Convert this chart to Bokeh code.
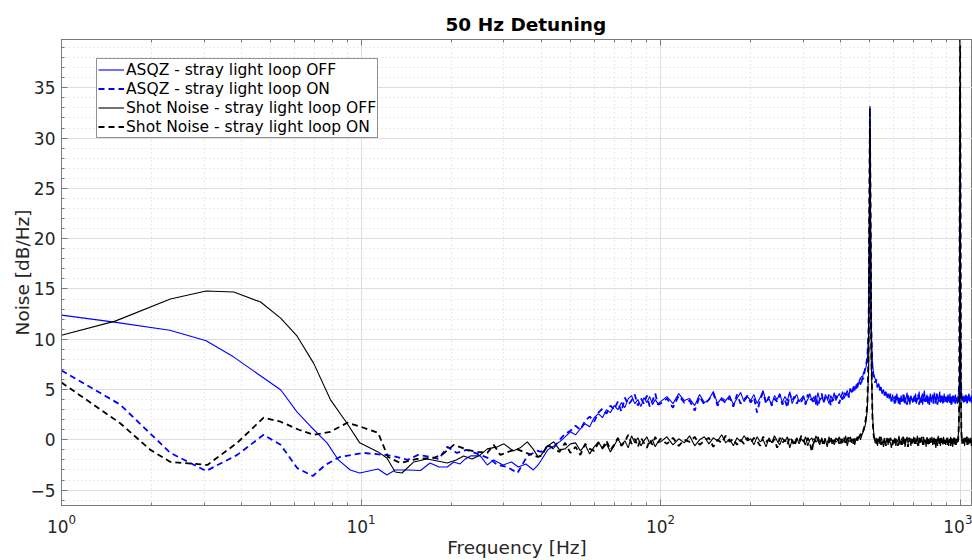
from bokeh.plotting import figure
from bokeh.models import (Range1d, LogAxis, LogTicker, SingleIntervalTicker,
                          Legend, LegendItem, ColumnDataSource)
from bokeh.embed import file_html
from bokeh.resources import INLINE

FONT = "DejaVu Sans"

# ---------------- data ----------------
# smooth low-frequency parts (below 40 Hz), one list per series
asqz_off_f_low = [1.0, 1.5, 2.3, 3.04, 3.75, 4.5, 5.4, 6.1, 6.8, 7.7, 8.4, 9.2, 9.9,
                  11.4, 12.2, 13.0, 14.3, 15.8, 17.0, 18.2, 19.4, 20.4, 21.4, 22.3,
                  23.2, 25.0, 26.4, 27.7, 29.8, 31.8, 33.5, 35.5, 37.6, 39.0]
asqz_off_v_low = [12.4, 11.7, 10.9, 9.85, 8.25, 6.6, 4.95, 2.8, 1.3, -0.3, -2.0, -3.0, -3.3,
                  -2.9, -3.5, -3.0, -3.0, -3.05, -2.3, -2.7, -2.7, -2.2, -2.4, -1.9,
                  -1.6, -1.6, -2.5, -2.0, -2.5, -2.2, -2.7, -2.4, -3.0, -2.5]

asqz_on_f_low = [1.0, 1.57, 2.31, 3.04, 3.86, 4.73, 5.39, 6.12, 6.9, 7.6, 8.5, 10.2, 11.1,
                 12.8, 14.3, 15.5, 17.0, 18.2, 19.4, 20.9, 22.5, 25.0, 27.0, 28.5, 30.8,
                 33.3, 35.9, 38.9]
asqz_on_v_low = [6.9, 3.5, -1.3, -3.1, -1.5, 0.5, -0.5, -2.8, -3.6, -2.5, -1.7, -1.3, -1.4,
                 -1.6, -2.0, -1.5, -1.7, -1.9, -0.7, -1.3, -1.0, -1.5, -1.9, -2.5, -2.7,
                 -3.3, -1.6, -1.1]

shot_off_f_low = [1.0, 1.51, 2.31, 3.04, 3.76, 4.62, 5.39, 6.12, 6.95, 7.9, 9.0, 9.9, 11.4,
                  12.2, 13.0, 13.7, 15.0, 16.6, 18.0, 19.4, 20.8, 22.0, 23.5, 25.0, 26.4,
                  28.5, 30.0, 32.2, 34.0, 35.9, 37.5, 39.0]
shot_off_v_low = [10.4, 11.8, 14.0, 14.8, 14.7, 13.7, 12.1, 10.3, 7.6, 4.0, 1.6, -0.3, -1.2,
                  -1.8, -3.2, -3.3, -2.2, -1.9, -2.1, -2.3, -2.0, -1.6, -1.9, -1.5, -0.9,
                  -0.7, -0.4, -1.1, -0.8, -0.2, -0.9, -1.7]

shot_on_f_low = [1.0, 1.57, 1.98, 2.31, 3.07, 3.86, 4.73, 5.39, 6.2, 6.95, 7.9, 9.0, 10.2,
                 11.4, 12.3, 13.5, 15.4, 17.5, 18.8, 20.4, 22.7, 24.5, 26.4, 27.7, 29.2,
                 31.0, 33.0, 35.5, 38.9]
shot_on_v_low = [5.7, 1.65, -1.0, -2.2, -2.5, -0.3, 2.2, 1.8, 1.0, 0.5, 0.8, 1.7, 1.2,
                 0.7, -1.7, -2.3, -1.9, -1.8, -1.4, -0.5, -1.0, -1.2, -1.3, -0.5, -1.5,
                 -1.2, -0.9, -1.3, -1.7]

# frequency bins of the noisy part: 40..98 Hz every 2 Hz, 100..1100 Hz every 5 Hz
freq_hi = list(range(40, 100, 2)) + list(range(100, 1101, 5))

asqz_off_hi = [
    -2.0, -1.0, -0.6, -0.2, 0.3, 0.8, 0.5, 1.1, 1.6, 1.3, 2.2, 2.6, 2.2, 3.0, 2.7,
    3.4, 3.0, 3.7, 3.2, 4.1, 4.4, 3.6, 4.0, 3.3, 4.2, 3.7, 4.3, 3.5, 4.0, 3.6,
    3.8, 4.3, 3.6, 4.6, 3.9, 4.1, 3.4, 4.5, 3.7, 4.0, 4.8, 3.6, 4.2, 3.9, 4.4, 3.5, 4.1, 4.7, 3.8, 4.3,
    3.9, 4.5, 3.6, 4.2, 4.9, 3.8, 4.1, 3.5, 4.4, 4.0, 4.6, 3.7, 4.3, 3.9, 4.8, 3.6, 4.2, 4.5, 3.8, 4.1,
    4.4, 3.7, 4.0, 4.6, 3.9, 4.3, 3.5, 4.7, 4.0, 4.2, 3.8, 4.5, 4.1, 3.6, 4.4, 4.0, 4.7, 3.9, 4.3, 4.6,
    4.2, 4.8, 4.1, 4.5, 4.9, 4.4, 5.0, 4.7, 5.3, 4.9, 5.5, 5.2, 5.8, 6.2, 5.7, 6.6, 6.9, 7.2, 7.9, 10.5,
    30.0, 11.0, 7.4, 6.5, 6.1, 5.8, 5.3, 5.6, 5.0, 5.2, 4.7, 5.0, 4.5, 4.8, 4.3, 4.6, 4.1, 4.4, 3.9, 4.5,
    4.0, 4.3, 3.7, 4.6, 3.9, 4.2, 3.5, 4.4, 4.0, 3.8, 4.5, 3.6, 4.1, 4.7, 3.8, 4.2, 3.5, 4.4, 4.0, 3.7,
    4.3, 3.9, 4.6, 3.6, 4.2, 4.0, 4.8, 3.7, 4.1, 4.4, 3.5, 4.3, 4.9, 3.8, 4.0, 4.5, 3.6, 4.2, 3.9, 4.6,
    3.7, 4.1, 4.4, 3.8, 4.7, 4.0, 3.6, 4.3, 4.5, 3.9, 4.2, 4.8, 3.7, 4.0, 4.4, 3.6, 4.1, 4.6, 3.8, 4.3,
    4.0, 3.7, 4.5, 4.1, 3.8, 4.6, 3.9, 4.3, 3.6, 4.4, 4.0, 3.7, 4.2, 4.5, 3.8, 4.1, 3.6, 4.3, 4.8, 6.0,
    24.0, 6.2, 4.5, 3.9, 4.3, 3.7, 4.4, 4.0, 3.8, 4.5, 4.1, 3.6, 4.3, 4.0, 4.6, 3.8, 4.2, 3.9, 4.4, 4.0, 4.1,
]

asqz_on_hi = [
    -1.2, -0.6, -0.8, 0.0, 0.6, 0.9, 1.4, 1.0, 1.9, 2.3, 1.8, 2.7, 3.1, 2.6, 3.4,
    3.0, 3.8, 2.8, 4.2, 3.5, 3.9, 4.5, 3.4, 4.1, 3.6, 4.4, 3.3, 3.9, 4.6, 3.5,
    3.6, 4.1, 3.2, 4.4, 3.7, 3.9, 2.9, 4.3, 3.5, 4.0, 4.6, 3.4, 4.0, 3.7, 4.2, 3.3, 4.5, 3.6, 4.0, 4.4,
    3.7, 4.2, 2.7, 4.0, 4.7, 3.6, 4.3, 3.4, 4.1, 3.8, 4.5, 3.5, 4.0, 3.2, 4.6, 3.9, 4.3, 3.6, 4.1, 3.8,
    4.2, 3.5, 4.5, 3.9, 4.1, 3.6, 4.4, 3.3, 4.0, 4.6, 3.7, 4.2, 3.9, 4.5, 3.4, 4.1, 3.8, 4.4, 4.0, 3.6,
    4.3, 4.0, 4.7, 4.4, 4.8, 4.2, 5.1, 4.6, 5.0, 5.4, 5.1, 5.6, 5.9, 5.5, 6.3, 6.0, 6.8, 7.4, 8.2, 11.0,
    33.0, 11.5, 6.8, 6.3, 5.7, 6.0, 5.2, 5.5, 4.9, 5.3, 4.6, 4.9, 4.4, 4.7, 4.2, 4.5, 4.0, 4.6, 3.8, 4.2,
    4.1, 3.6, 4.4, 3.9, 4.2, 3.4, 4.3, 3.8, 4.0, 4.5, 3.6, 4.2, 3.9, 3.5, 4.4, 4.0, 3.7, 4.3, 3.9, 4.1,
    3.8, 4.4, 3.6, 4.1, 3.9, 4.5, 3.5, 4.2, 4.0, 3.7, 4.6, 3.9, 4.1, 3.6, 4.3, 3.8, 4.4, 4.0, 3.5, 4.2,
    4.1, 3.8, 4.5, 3.6, 4.0, 4.3, 3.9, 4.6, 3.5, 4.2, 3.8, 4.1, 4.4, 3.6, 3.9, 4.5, 3.7, 4.0, 4.2, 3.8,
    4.3, 3.9, 3.6, 4.4, 4.0, 3.7, 4.2, 3.5, 4.1, 3.9, 4.5, 3.8, 4.0, 3.6, 4.3, 3.9, 4.1, 3.7, 4.9, 6.3,
    35.0, 6.5, 4.7, 4.0, 3.8, 4.2, 3.6, 4.3, 4.0, 3.9, 4.4, 3.7, 4.1, 3.8, 4.5, 3.9, 4.0, 4.2, 3.7, 4.3, 4.0,
]

shot_off_hi = [
    -1.5, -0.6, -0.2, -1.0, -0.9, -0.4, -0.3, -1.1, -0.5, -1.4, -0.7, -0.2, -0.9, -0.4, -1.2,
    -0.6, 0.1, -0.5, -0.1, -0.8, 0.4, -0.3, 0.2, -0.6, -0.1, 0.3, -0.4, 0.0, -0.7, -0.2,
    -0.2, 0.3, -0.5, 0.1, -0.3, 0.4, -0.6, 0.0, 0.3, -0.4, 0.2, -0.1, 0.5, -0.3, 0.1, -0.6, 0.2, -0.2, 0.4, -0.1,
    0.1, -0.5, 0.3, -0.2, 0.0, -0.7, 0.2, -0.3, 0.4, -0.1, -0.5, 0.2, -0.2, 0.3, -0.8, 0.0, -0.3, 0.2, -0.4, 0.1,
    -0.2, 0.3, -0.6, 0.0, 0.2, -0.4, 0.4, -0.1, -0.5, 0.2, -0.3, 0.1, -0.7, 0.3, -0.2, 0.0, -0.5, 0.2, -0.1, 0.3,
    -0.4, 0.1, -0.2, 0.4, -0.6, 0.0, 0.3, -0.3, 0.1, -0.5, 0.2, -0.1, 0.4, 0.0, 0.5, 0.8, 1.2, 1.8, 3.0, 7.0,
    33.2, 8.0, 2.4, 0.6, -0.3, 0.2, -0.6, 0.1, -0.4, 0.3, -0.2, -0.7, 0.0, -0.4, 0.2, -0.5, 0.1, -0.3, -0.8, 0.0,
    -0.3, 0.2, -0.6, 0.0, -0.2, 0.4, -0.5, -0.1, 0.2, -0.4, 0.1, -0.7, 0.0, 0.3, -0.3, -0.1, 0.2, -0.6, 0.0, -0.2,
    0.3, -0.4, 0.0, -0.2, 0.4, -0.6, 0.1, -0.3, 0.2, -0.1, -0.5, 0.3, -0.2, 0.0, -0.7, 0.2, -0.3, 0.1, -0.4, 0.0,
    -0.2, 0.3, -0.5, 0.0, 0.2, -0.3, -0.8, 0.1, -0.2, 0.4, -0.4, 0.0, -0.6, 0.2, -0.1, -0.4, 0.3, -0.2, 0.0, -0.5,
    0.1, -0.3, 0.2, -0.6, 0.0, -0.2, 0.3, -0.4, 0.1, -0.7, 0.0, -0.3, 0.2, -0.1, -0.5, 0.1, -0.2, 0.3, 1.0, 4.0,
    35.0, 5.0, 0.6, -0.4, 0.1, -0.3, 0.2, -0.6, 0.0, -0.2, 0.3, -0.5, -0.1, 0.2, -0.4, 0.0, -0.3, 0.1, -0.6, 0.0, -0.2,
]

shot_on_hi = [
    -1.6, -0.5, -0.9, -1.2, -0.3, -1.3, -0.7, -1.5, -0.4, -0.9, -1.1, -0.3, -0.8, -0.1, -1.0,
    -0.5, 0.2, -0.6, -0.2, 0.5, -0.4, 0.1, -0.7, 0.2, -0.3, -0.8, 0.0, -0.5, 0.3, -0.3,
    0.1, -0.4, 0.2, -0.6, 0.0, -0.2, 0.3, -0.5, -0.1, 0.2, -0.7, 0.0, -0.3, 0.4, -0.2, 0.1, -0.5, 0.0, -0.4, 0.2,
    -0.3, 0.2, -0.1, -0.6, 0.3, -0.2, 0.0, -0.4, 0.1, -0.8, 0.2, -0.3, 0.0, -0.5, 0.3, -0.1, -0.6, 0.1, -0.2, 0.4,
    0.0, -0.5, 0.2, -0.3, -1.2, 0.1, -0.2, 0.3, -0.4, 0.0, -0.6, 0.2, -0.1, -0.3, 0.3, -0.5, 0.0, -0.2, 0.2, -0.4,
    0.1, -0.3, 0.2, -0.5, 0.0, 0.3, -0.2, 0.1, -0.4, 0.2, -0.1, 0.3, 0.0, 0.6, 0.4, 0.9, 1.4, 2.2, 3.5, 9.0,
    31.0, 9.5, 2.0, 0.3, 0.0, -0.4, 0.1, -0.2, 0.3, -0.5, 0.0, -0.3, 0.2, -0.6, -0.1, 0.1, -0.4, 0.2, -0.2, -0.5,
    0.0, -0.4, 0.1, -0.2, -0.6, 0.2, -0.3, 0.0, -0.5, 0.3, -0.1, -0.4, 0.1, -0.2, -0.7, 0.2, -0.1, -0.3, 0.1, -0.5,
    -0.1, 0.2, -0.4, 0.1, -0.3, -0.6, 0.2, 0.0, -0.4, 0.3, -0.2, -0.5, 0.1, -0.1, -0.3, 0.3, -0.6, 0.0, -0.2, 0.2,
    -0.4, 0.0, -0.2, 0.3, -0.5, 0.1, -0.3, 0.0, -0.6, 0.2, -0.1, -0.4, 0.2, -0.3, 0.0, -0.5, 0.2, -0.1, -0.4, 0.1,
    -0.2, 0.2, -0.5, 0.0, -0.3, 0.1, -0.6, 0.2, -0.2, 0.0, -0.4, 0.3, -0.1, -0.5, 0.1, -0.3, 0.0, -0.2, 1.5, 5.0,
    45.0, 6.0, 0.8, -0.2, 0.1, -0.5, 0.0, -0.3, 0.2, -0.4, -0.1, 0.3, -0.5, 0.0, -0.2, 0.1, -0.4, 0.2, -0.3, -0.1, 0.0,
]

labels = ["ASQZ - stray light loop OFF", "ASQZ - stray light loop ON",
          "Shot Noise - stray light loop OFF", "Shot Noise - stray light loop ON"]

# ---------------- figure ----------------
p = figure(width=972, height=560, x_axis_type="log",
           x_range=Range1d(1, 1100), y_range=Range1d(-6.53, 39.8),
           output_backend="svg", toolbar_location=None,
           min_border_left=61, min_border_right=0, min_border_top=39,
           min_border_bottom=54, title="50 Hz Detuning")
p.title.text_font = FONT
p.title.text_font_size = "18.5px"
p.title.text_font_style = "bold"
p.title.text_color = "#000000"
p.title.align = "left"
p.title.offset = 384
p.title.standoff = 10
p.outline_line_color = "#7a7a7a"
p.background_fill_color = "white"
p.border_fill_color = "white"

xt = LogTicker(num_minor_ticks=10)
yt = SingleIntervalTicker(interval=5, num_minor_ticks=5)
p.xaxis.ticker = xt
p.yaxis.ticker = yt
p.xgrid.ticker = xt
p.ygrid.ticker = yt

for ax in (p.xaxis[0], p.yaxis[0]):
    ax.axis_line_color = "#7a7a7a"
    ax.major_tick_line_color = "#7a7a7a"
    ax.minor_tick_line_color = "#7a7a7a"
    ax.major_tick_in = 6
    ax.major_tick_out = 0
    ax.minor_tick_in = 3
    ax.minor_tick_out = 0
    ax.major_label_text_font = FONT
    ax.major_label_text_font_size = "17px"
    ax.major_label_text_color = "#262626"
    ax.axis_label_text_font = FONT
    ax.axis_label_text_font_size = "18.5px"
    ax.axis_label_text_font_style = "normal"
    ax.axis_label_text_color = "#262626"

p.xaxis.axis_label = "Frequency [Hz]"
p.yaxis.axis_label = "Noise [dB/Hz]"
p.xaxis.major_label_standoff = 8
p.yaxis.major_label_standoff = 6
p.xaxis.axis_label_standoff = 1
p.yaxis.axis_label_standoff = -6

top = LogAxis(ticker=xt, major_label_text_font_size="1px", major_label_text_alpha=0.0,
              axis_line_color="#7a7a7a", major_tick_line_color="#7a7a7a",
              minor_tick_line_color="#7a7a7a", major_tick_in=6, major_tick_out=0,
              minor_tick_in=3, minor_tick_out=0, major_label_standoff=0)
p.add_layout(top, "above")

for g in (p.xgrid[0], p.ygrid[0]):
    g.grid_line_color = "#dedede"
    g.grid_line_width = 1
    g.minor_grid_line_color = "#d4d4d4"
    g.minor_grid_line_dash = "1 3"
    g.minor_grid_line_width = 1

series = [
    (asqz_off_f_low, asqz_off_v_low, asqz_off_hi, "#0000ff", "solid", 1.1),
    (asqz_on_f_low, asqz_on_v_low, asqz_on_hi, "#0000ff", "6 4", 1.8),
    (shot_off_f_low, shot_off_v_low, shot_off_hi, "#000000", "solid", 1.1),
    (shot_on_f_low, shot_on_v_low, shot_on_hi, "#000000", "6 4", 1.8),
]
items = []
for (fl, vl, vh, col, dash, lw), lab in zip(series, labels):
    src = ColumnDataSource(dict(f=fl + freq_hi, v=vl + vh))
    r = p.line("f", "v", source=src, line_color=col, line_dash=dash, line_width=lw)
    items.append(LegendItem(label=lab, renderers=[r]))

leg = Legend(items=items, location=(35, 367))
leg.label_text_font = FONT
leg.label_text_font_size = "15.5px"
leg.label_text_color = "#000000"
leg.label_height = 19
leg.glyph_height = 19
leg.glyph_width = 26
leg.label_standoff = 2
leg.spacing = 0
leg.padding = 1
leg.margin = 0
leg.border_line_color = "#262626"
leg.border_line_width = 1
leg.background_fill_color = "white"
leg.background_fill_alpha = 1.0
p.add_layout(leg, "center")

open("out.html", "w").write(file_html(p, INLINE))
